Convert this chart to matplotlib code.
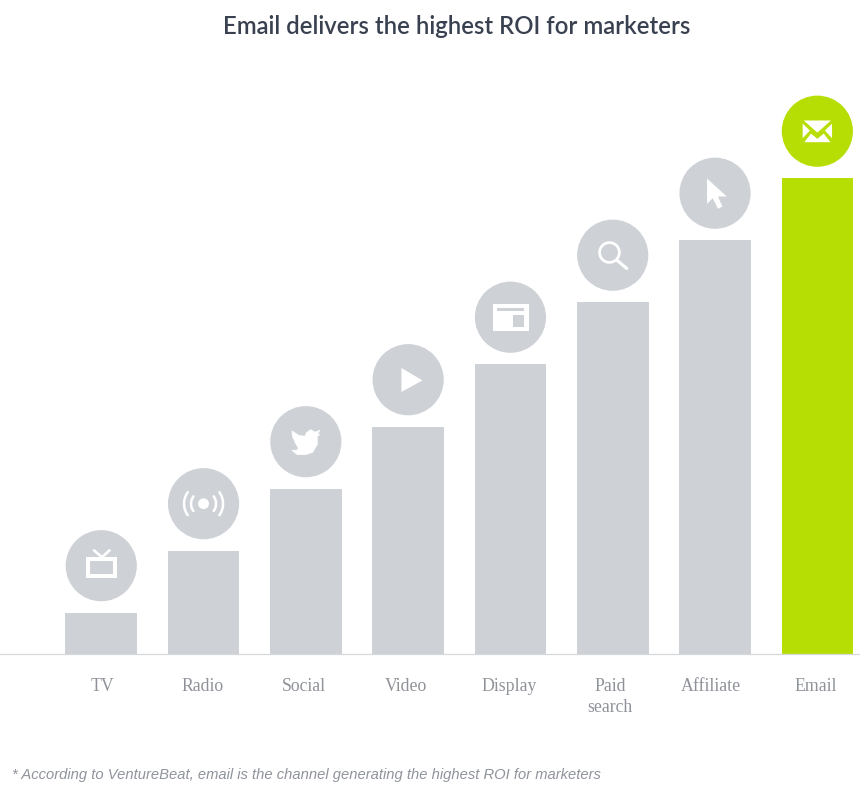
import numpy as np
import matplotlib
matplotlib.use("Agg")
import matplotlib.pyplot as plt
from matplotlib.patches import Polygon, Rectangle, Circle, PathPatch
from matplotlib.path import Path
from matplotlib.transforms import Affine2D

# ---- data ----
categories = ["TV", "Radio", "Social", "Video", "Display", "Paid\nsearch", "Affiliate", "Email"]
roi_values = [41.5, 103.5, 165.5, 227.5, 290, 352, 414, 476]
icon_names = ["tv", "radio", "twitter", "play", "display", "search", "cursor", "mail"]
highlight = "Email"

# ---- style ----
GREY = "#ced1d6"
LIME = "#b7de04"
TEXT = "#8f9399"
W, H, BASE = 860, 790, 136
STEP = 102.3
X0 = 101.25
CIRCLE_GAP = 46.8
CIRCLE_R = 35.6
LABEL_NUDGE = [0.75, -1.5, -2, -2, -1.5, -2.8, -4, -1.4]

fig = plt.figure(figsize=(W / 100, H / 100), dpi=100, facecolor="white")
ax = fig.add_axes([0, BASE / H, 1, (H - BASE) / H])
ax.set_xlim(-X0 / STEP, (W - X0) / STEP)
ax.set_ylim(0, H - BASE)
ax.set_facecolor("none")

x = np.arange(len(categories))
colors = [LIME if c == highlight else GREY for c in categories]
ax.bar(x, roi_values, width=0.7, color=colors, linewidth=0, zorder=2)

for s in ("top", "left", "right"):
    ax.spines[s].set_visible(False)
ax.spines["bottom"].set_color("#d6d8dc")
ax.spines["bottom"].set_linewidth(0.9)
ax.set_yticks([])
ax.set_xticks(x + np.array(LABEL_NUDGE) / STEP)
ax.set_xticklabels(categories, family="Liberation Serif", fontsize=12.8, color=TEXT, linespacing=1.3, va="top")
ax.tick_params(axis="x", length=0, pad=17.5)

# ---- icon helpers: geometry in pixels relative to the circle centre, y up ----
def poly(pts, tr, color="white", z=4):
    ax.add_patch(Polygon(pts, closed=True, transform=tr, facecolor=color, edgecolor="none", zorder=z))

def rect(x0, x1, y0, y1, tr, color="white", z=4):
    ax.add_patch(Rectangle((x0, y0), x1 - x0, y1 - y0, transform=tr, facecolor=color, edgecolor="none", zorder=z))

def stroke(xs, ys, tr, lw_px, cap="round"):
    ax.plot(xs, ys, transform=tr, color="white", lw=lw_px * 0.72, solid_capstyle=cap, zorder=4)

def icon_tv(tr, bg):
    rect(-15, 15.7, -12.7, 8.3, tr)
    rect(-11, 11.7, -8.4, 4.4, tr, bg, 5)
    stroke([-8, 0.7], [16, 8.5], tr, 2.6, "butt")
    stroke([9, 0.7], [16, 8.5], tr, 2.6, "butt")

def icon_radio(tr, bg):
    ax.add_patch(Circle((0, 0), 5.4, transform=tr, facecolor="white", edgecolor="none", zorder=4))
    for r, a in ((12.5, 36), (19.5, 36)):
        t = np.radians(np.linspace(-a, a, 40))
        stroke(r * np.cos(t), r * np.sin(t), tr, 2.5)
        stroke(-r * np.cos(t), r * np.sin(t), tr, 2.5)

def icon_twitter(tr, bg):
    verts = [(-13.8, -8.8), (-8.5, -13), (0, -12.9), (7, -10.4), (11.5, -2.5), (11.3, 5.3),
             (14, 7.2), (11.4, 7.3), (14, 11.4), (9.5, 9.5), (4.5, 12), (0.2, 8.6), (-0.5, 5.5),
             (-7, 6.2), (-13.8, 10.8), (-13.6, 6), (-11.6, 1.5), (-10.5, -1.5),
             (-7.5, -6.2), (-8.5, -8.4)]
    ax.add_patch(PathPatch(Path(verts + [verts[0]], [Path.MOVETO] + [Path.LINETO] * len(verts)),
                           transform=tr, facecolor="white", edgecolor="white", lw=0.5, joinstyle="round", zorder=4))

def icon_play(tr, bg):
    poly([(-6.7, 11.7), (-6.7, -12.3), (14.3, -0.7)], tr)

def icon_display(tr, bg):
    rect(-17.7, 18.3, -13.7, 13.3, tr)
    rect(-13, 14, 6, 9, tr, bg, 5)
    rect(2.3, 14, -9.3, 2, tr, bg, 5)

def icon_search(tr, bg):
    ax.add_patch(Circle((-3.3, 2.7), 9.9, transform=tr, facecolor="none", edgecolor="white", lw=2.7 * 0.72, zorder=4))
    stroke([4.5, 14], [-5.3, -13.3], tr, 3.2)

def icon_cursor(tr, bg):
    poly([(-8, 14.7), (-8, -10.7), (-2.3, -5), (3, -15.7), (7.3, -13.3), (3, -3.3), (11.7, -3.3)], tr)

def icon_mail(tr, bg):
    poly([(-13.6, 10.7), (13.6, 10.7), (0, -1.4)], tr)
    poly([(-14.7, 7.6), (-14.7, -7.0), (-7.5, 0.6)], tr)
    poly([(14.7, 7.6), (14.7, -7.0), (7.5, 0.6)], tr)
    poly([(-13, -11), (13, -11), (6.4, -2.4), (0, -7.6), (-6.4, -2.4)], tr)

ICONS = dict(tv=icon_tv, radio=icon_radio, twitter=icon_twitter, play=icon_play,
             display=icon_display, search=icon_search, cursor=icon_cursor, mail=icon_mail)

circle_y = np.array(roi_values) + CIRCLE_GAP
ax.scatter(x, circle_y, s=(2 * CIRCLE_R * 0.72) ** 2, c=colors, linewidths=0, zorder=3, clip_on=False)
for xi, yi, name, col in zip(x, circle_y, icon_names, colors):
    cx, cy = ax.transData.transform((xi, yi))
    ICONS[name](Affine2D().translate(cx, cy), col)

ax.set_xlim(-X0 / STEP, (W - X0) / STEP)
ax.set_ylim(0, H - BASE)

fig.text(456.5 / W, 1 - 26 / H, "Email delivers the highest ROI for marketers", ha="center", va="center",
         family="Lato", weight="semibold", fontsize=17.2, color="#394150")
fig.text(12 / W, 1 - 775 / H, "* According to VentureBeat, email is the channel generating the highest ROI for marketers",
         ha="left", va="center", family="Liberation Sans", style="italic", fontsize=10.6, color="#8f939b")

fig.savefig("out.png", dpi=100, facecolor="white")
